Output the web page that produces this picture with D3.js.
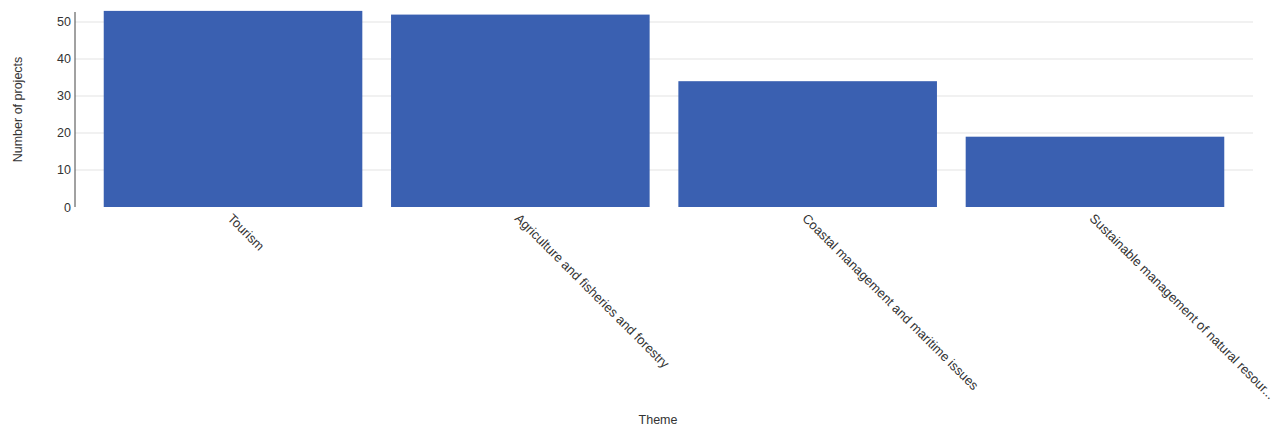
<!DOCTYPE html>
<html><head><meta charset="utf-8">
<script src="https://cdn.jsdelivr.net/npm/d3@7"></script>
<style>body{margin:0;background:#fff;} text{font-family:"Liberation Sans",Arial,sans-serif;}</style>
</head><body>
<svg id="c" width="1277" height="432"></svg>
<script>
const categories = ["Tourism","Agriculture and fisheries and forestry","Coastal management and maritime issues","Sustainable management of natural resour..."];
const values = [53, 52, 34, 19];
const yTicks = [0,10,20,30,40,50];

(function(){
const svg = d3.select("#c");
const mLeft = 75, mRight = 1253, mTop = 12, mBottom = 207;
const x = d3.scaleBand().domain(categories).range([mLeft, mRight]).paddingInner(0.1).paddingOuter(0.1);
const y = d3.scaleLinear().domain([0, 52.7]).range([mBottom, mTop]);

// gridlines
svg.append("g").selectAll("line").data(yTicks.filter(d=>d>0)).join("line")
  .attr("x1", mLeft).attr("x2", mRight).attr("y1", d=>y(d)).attr("y2", d=>y(d))
  .attr("stroke", "#e3e3e3").attr("stroke-width", 1);

// bars
svg.append("g").selectAll("rect").data(values).join("rect")
  .attr("x", (d,i)=>x(categories[i])).attr("width", x.bandwidth())
  .attr("y", d=>y(d)).attr("height", d=>mBottom - y(d))
  .attr("fill", "#3a60b1");

// y axis
const ya = svg.append("g").attr("transform", `translate(${mLeft},0)`)
  .call(d3.axisLeft(y).tickValues(yTicks).tickSize(0).tickPadding(4));
ya.select(".domain").attr("stroke", "#444").attr("d", `M0,${mTop}V${mBottom}`);
ya.selectAll("text").attr("font-size", 12.5).attr("fill", "#333").attr("font-family", "Liberation Sans, Arial, sans-serif");

// x labels
svg.append("g").selectAll("text").data(categories).join("text")
  .attr("transform", d=>`translate(${x(d)+x.bandwidth()/2-3},${mBottom+9}) rotate(45)`)
  .attr("text-anchor", "start").attr("dy", "0.35em")
  .attr("font-size", 13).attr("fill", "#333")
  .text(d=>d);

// axis titles
svg.append("text").attr("transform", `translate(22,${(mTop+mBottom)/2}) rotate(-90)`)
  .attr("text-anchor", "middle").attr("font-size", 12.5).attr("fill", "#333").text("Number of projects");
svg.append("text").attr("x", 658).attr("y", 424)
  .attr("text-anchor", "middle").attr("font-size", 12.5).attr("fill", "#333").text("Theme");
})();
</script>
</body></html>
